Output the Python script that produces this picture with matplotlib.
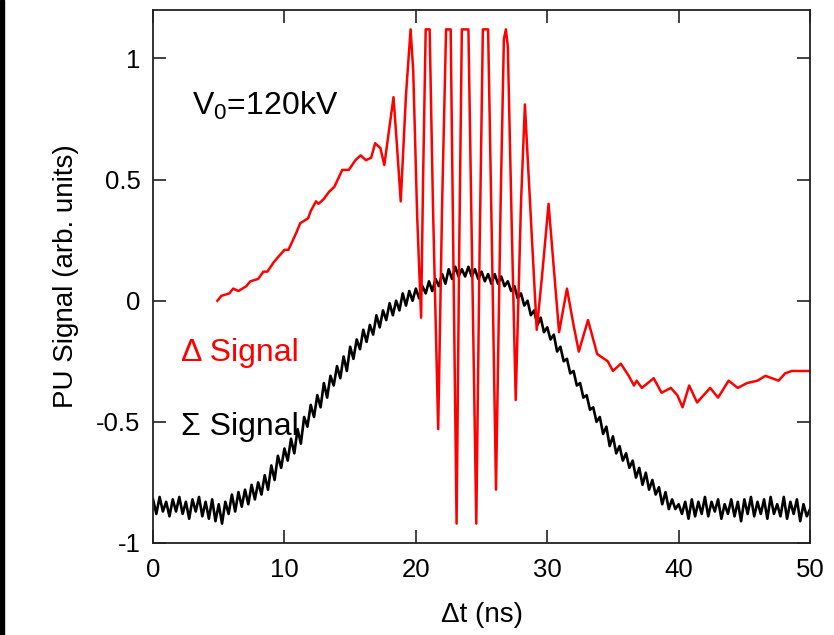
import numpy as np
import matplotlib
matplotlib.use("Agg")
import matplotlib.pyplot as plt
from matplotlib.patches import Rectangle

# fonts: Arial-like text, also for the subscript
plt.rcParams['font.family'] = ['Liberation Sans', 'DejaVu Sans']
plt.rcParams['mathtext.fontset'] = 'custom'
plt.rcParams['mathtext.rm'] = 'Liberation Sans'
plt.rcParams['mathtext.default'] = 'rm'

# sum signal, sampled every 0.25 ns from 0 to 50 ns
t_sum = np.linspace(0, 50, 201)
sig_sum = [
    -0.82, -0.88, -0.81, -0.87, -0.83, -0.89, -0.82, -0.87,
    -0.81, -0.88, -0.83, -0.90, -0.82, -0.87, -0.81, -0.89,
    -0.83, -0.90, -0.82, -0.91, -0.84, -0.92, -0.83, -0.88,
    -0.80, -0.87, -0.79, -0.85, -0.78, -0.84, -0.76, -0.82,
    -0.75, -0.80, -0.72, -0.78, -0.68, -0.74, -0.64, -0.69,
    -0.61, -0.66, -0.57, -0.63, -0.53, -0.59, -0.48, -0.52,
    -0.43, -0.48, -0.39, -0.44, -0.34, -0.40, -0.31, -0.35,
    -0.27, -0.32, -0.23, -0.29, -0.19, -0.24, -0.16, -0.20,
    -0.12, -0.17, -0.10, -0.14, -0.06, -0.11, -0.04, -0.08,
    -0.01, -0.06, 0.00, -0.04, 0.03, -0.02, 0.04, 0.00,
    0.05, 0.01, 0.06, 0.03, 0.08, 0.04, 0.09, 0.06,
    0.11, 0.07, 0.13, 0.09, 0.14, 0.10, 0.13, 0.10,
    0.14, 0.10, 0.13, 0.09, 0.12, 0.08, 0.11, 0.07,
    0.11, 0.07, 0.10, 0.06, 0.08, 0.04, 0.06, 0.01,
    0.03, -0.02, 0.00, -0.06, -0.04, -0.10, -0.07, -0.13,
    -0.11, -0.16, -0.14, -0.21, -0.19, -0.25, -0.24, -0.30,
    -0.29, -0.35, -0.34, -0.40, -0.39, -0.45, -0.44, -0.50,
    -0.48, -0.55, -0.52, -0.60, -0.56, -0.63, -0.60, -0.66,
    -0.63, -0.69, -0.66, -0.73, -0.69, -0.76, -0.71, -0.78,
    -0.74, -0.80, -0.77, -0.84, -0.79, -0.86, -0.82, -0.86,
    -0.84, -0.88, -0.83, -0.90, -0.82, -0.89, -0.83, -0.88,
    -0.81, -0.89, -0.83, -0.87, -0.82, -0.90, -0.84, -0.88,
    -0.82, -0.89, -0.83, -0.91, -0.82, -0.88, -0.81, -0.89,
    -0.83, -0.88, -0.82, -0.90, -0.81, -0.88, -0.84, -0.89,
    -0.81, -0.90, -0.83, -0.88, -0.82, -0.91, -0.84, -0.89,
    -0.86]

# difference signal
t_delta = [4.9, 5.2, 5.8, 6.1, 6.5, 7.1, 7.4, 8.0, 8.4, 8.7,
           9.2, 10.0, 10.3, 10.9, 11.2, 11.8, 12.0, 12.4, 12.6, 13.0,
           13.4, 13.8, 14.4, 14.9, 15.4, 15.8, 16.2, 16.6, 16.9, 17.3,
           17.6, 18.0, 18.3, 18.55, 18.85, 19.25, 19.6, 19.8, 20.1, 20.4,
           20.55, 20.75, 21.05, 21.3, 21.7, 22.0, 22.3, 22.65, 22.85, 23.1,
           23.3, 23.5, 24.0, 24.3, 24.6, 24.85, 25.1, 25.5, 25.8, 26.1,
           26.45, 26.7, 26.85, 27.0, 27.3, 27.6, 28.0, 28.3, 28.5, 29.2,
           29.6, 30.1, 30.4, 30.9, 31.5, 32.0, 32.4, 33.1, 33.8, 34.6,
           35.0, 35.6, 36.2, 36.6, 36.8, 37.2, 38.1, 38.7, 39.4, 39.9,
           40.3, 40.8, 41.4, 42.4, 43.0, 43.8, 44.5, 45.2, 46.0, 46.6,
           47.6, 48.1, 48.6, 49.2, 49.8, 50.0]
sig_delta = [0.00, 0.02, 0.03, 0.05, 0.04, 0.06, 0.08, 0.09, 0.12, 0.12,
             0.16, 0.21, 0.21, 0.28, 0.32, 0.34, 0.37, 0.41, 0.40, 0.42,
             0.45, 0.47, 0.54, 0.54, 0.58, 0.60, 0.58, 0.59, 0.65, 0.63,
             0.56, 0.72, 0.84, 0.65, 0.41, 0.85, 1.12, 0.95, 0.35, -0.07,
             0.50, 1.12, 1.12, 0.40, -0.53, 0.40, 1.12, 1.12, 0.20, -0.92,
             0.20, 1.12, 1.12, 0.10, -0.92, 0.20, 1.12, 1.12, 0.20, -0.78,
             0.40, 1.08, 1.12, 1.05, 0.30, -0.41, 0.40, 0.81, 0.60, -0.12,
             0.10, 0.40, 0.20, -0.13, 0.05, -0.10, -0.21, -0.08, -0.22, -0.25,
             -0.29, -0.26, -0.31, -0.35, -0.33, -0.36, -0.32, -0.38, -0.36, -0.39,
             -0.44, -0.35, -0.42, -0.36, -0.40, -0.33, -0.36, -0.34, -0.33, -0.31,
             -0.33, -0.30, -0.29, -0.29, -0.29, -0.29]

x_ticks = [0, 10, 20, 30, 40, 50]
y_ticks = [-1, -0.5, 0, 0.5, 1]
y_tick_labels = ['-1', '-0.5', '0', '0.5', '1']

fig = plt.figure(figsize=(8.34, 6.35), dpi=100)
ax = fig.add_axes([0.1835, 0.1449, 0.7878, 0.8394])

# the two signals
ax.plot(t_sum, sig_sum, color='black', lw=1.9)
ax.plot(t_delta, sig_delta, color='red', lw=1.8)

ax.set_xlim(0, 50)
ax.set_ylim(-1, 1.2)
ax.set_xticks(x_ticks)
ax.set_yticks(y_ticks)
ax.set_yticklabels(y_tick_labels)
ax.tick_params(direction='in', length=9.5, width=1.2, top=True, right=True,
               labelsize=18.5, color='#222222')
ax.tick_params(axis='x', pad=11)
ax.tick_params(axis='y', pad=9)
for s in ax.spines.values():
    s.set_linewidth(1.3)
    s.set_color('#222222')

# labels
ax.set_xlabel('\u0394t (ns)', fontsize=20, labelpad=14)
ax.set_ylabel('PU Signal (arb. units)', fontsize=20, labelpad=12)

# annotations
ax.text(3.0, 0.765, 'V$_0$=120kV', fontsize=23, va='baseline')
ax.text(2.1, -0.25, '\u0394 Signal', fontsize=23, color='red', va='baseline')
ax.text(2.1, -0.555, '\u03a3 Signal', fontsize=23, color='black', va='baseline')

# black strip on the left edge of the picture
fig.patches.append(Rectangle((0, 0), 4 / 834, 1, transform=fig.transFigure,
                             color='black', zorder=10))

plt.savefig('out.png', dpi=100)
